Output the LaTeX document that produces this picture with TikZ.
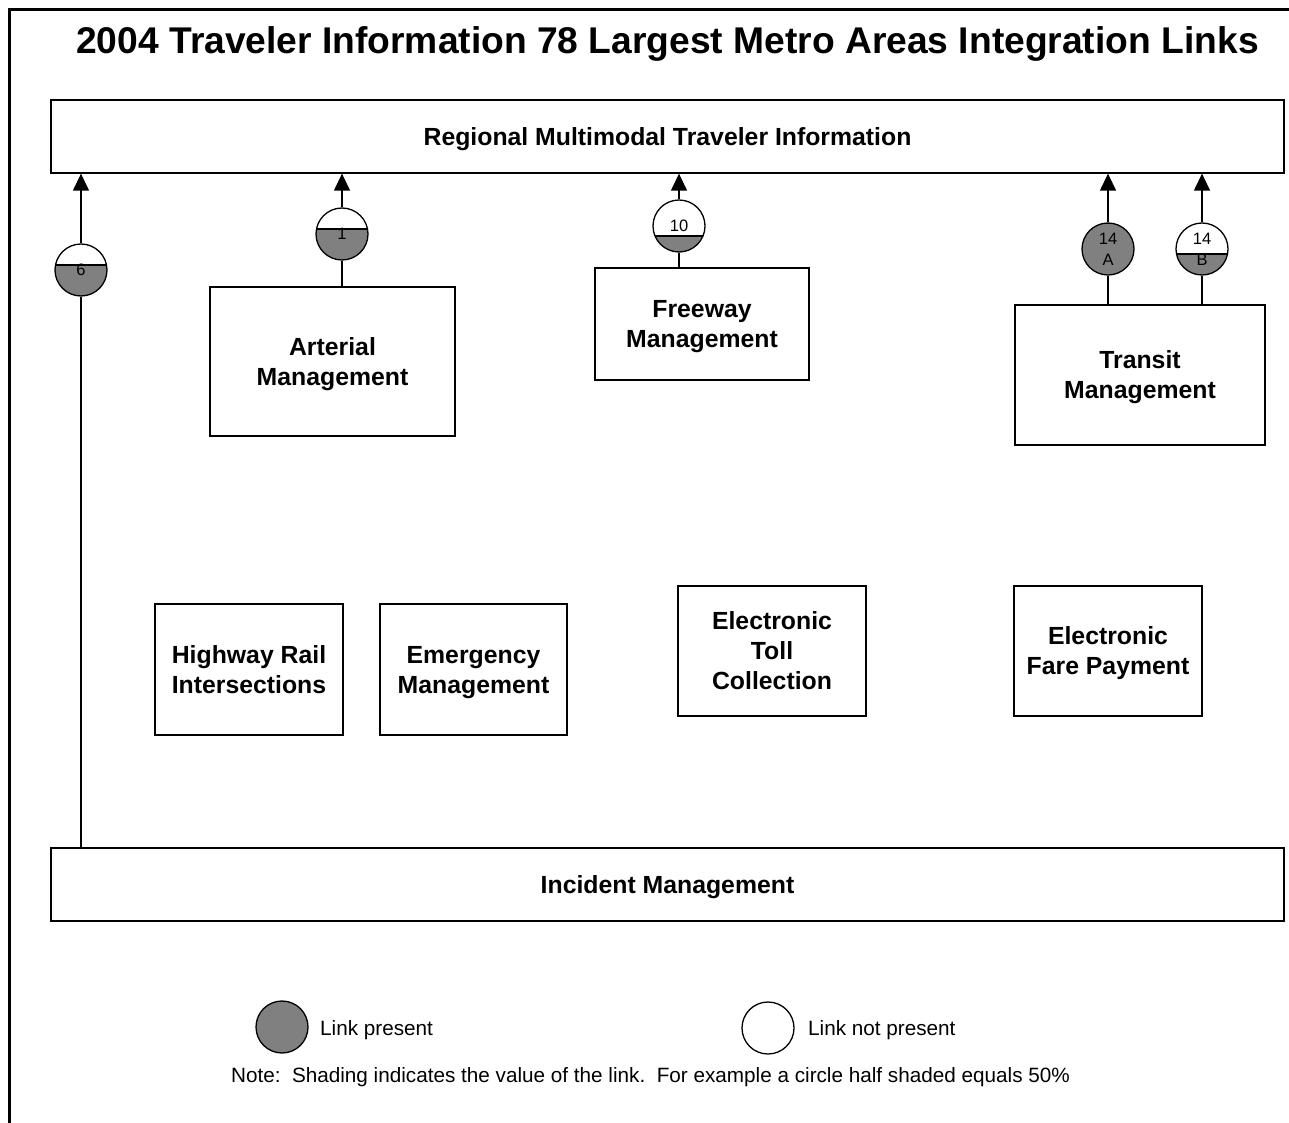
\documentclass[tikz,border=0pt]{standalone}
\usepackage{fontspec}
\setmainfont{Liberation Sans}
\usetikzlibrary{arrows.meta,calc}
\definecolor{shadegray}{RGB}{128,128,128}
\begin{document}
\begin{tikzpicture}[x=1pt,y=1pt,
  every node/.append style={text depth=0pt},
  box/.style={draw, line width=1.3pt, rectangle, align=center, font=\bfseries\fontsize{24.8}{30}\selectfont, inner sep=0pt},
  linkc/.style={circle, draw, line width=1.3pt, minimum size=52pt, inner sep=0pt, align=center,
    font=\fontsize{16.5}{21}\selectfont,
    path picture={\fill[shadegray] (path picture bounding box.south west) rectangle ([yshift=#1]path picture bounding box.south east);
      \draw[line width=1.3pt] ([yshift=#1]path picture bounding box.south west) -- ([yshift=#1]path picture bounding box.south east);}},
  conn/.style={line width=1.3pt},
  arr/.style={line width=1.3pt, -{Triangle[length=17pt,width=16pt]}},
  legtext/.style={anchor=west, inner sep=0pt, font=\fontsize{20.7}{24}\selectfont}
]
\useasboundingbox (0,0) rectangle (1289,-1123);
% outer frame
\draw[line width=3pt] (9.5,-1123) -- (9.5,-10) -- (1289,-10);
% title
\node[font=\bfseries\fontsize{37.2}{44}\selectfont, inner sep=0pt] (title) at (667.5,-40) {2004 Traveler Information 78 Largest Metro Areas Integration Links};
% boxes
\node[box, minimum width=1233pt, minimum height=73pt] (top) at (667.5,-136.5) {Regional Multimodal Traveler Information};
\node[box, minimum width=245pt, minimum height=149pt] (art) at (332.5,-361.5) {Arterial\\Management};
\node[box, minimum width=214pt, minimum height=112pt] (fwy) at (702,-324) {Freeway\\Management};
\node[box, minimum width=250pt, minimum height=140pt] (tra) at (1140,-375) {Transit\\Management};
\node[box, minimum width=188pt, minimum height=131pt] (hri) at (249,-669.5) {Highway Rail\\Intersections};
\node[box, minimum width=187pt, minimum height=131pt] (emg) at (473.5,-669.5) {Emergency\\Management};
\node[box, minimum width=188pt, minimum height=130pt] (etc) at (772,-651) {Electronic\\Toll\\Collection};
\node[box, minimum width=188pt, minimum height=130pt] (efp) at (1108,-651) {Electronic\\Fare Payment};
\node[box, minimum width=1233pt, minimum height=73pt] (inc) at (667.5,-884.5) {Incident Management};
% link circles
\node[linkc=31] (c6) at (81,-270) {6};
\node[linkc=31] (c1) at (342,-234) {1};
\node[linkc=16] (c10) at (679,-226) {10};
\node[linkc=52] (c14a) at (1108,-249) {14\\A};
\node[linkc=21] (c14b) at (1202,-249) {14\\B};
% connectors
\draw[arr] (c6.north) -- (c6.north |- top.south);
\draw[conn] (c6.south) -- (c6.south |- inc.north);
\draw[arr] (c1.north) -- (c1.north |- top.south);
\draw[conn] (c1.south) -- (c1.south |- art.north);
\draw[arr] (c10.north) -- (c10.north |- top.south);
\draw[conn] (c10.south) -- (c10.south |- fwy.north);
\draw[arr] (c14a.north) -- (c14a.north |- top.south);
\draw[conn] (c14a.south) -- (c14a.south |- tra.north);
\draw[arr] (c14b.north) -- (c14b.north |- top.south);
\draw[conn] (c14b.south) -- (c14b.south |- tra.north);
% legend
\node[circle, draw, line width=1.3pt, fill=shadegray, minimum size=52pt, inner sep=0pt] (lp) at (282,-1027) {};
\node[legtext] (lpt) at (320,-1028) {Link present};
\node[circle, draw, line width=1.3pt, fill=white, minimum size=52pt, inner sep=0pt] (lnp) at (768,-1028) {};
\node[legtext] (lnpt) at (808,-1028) {Link not present};
\node[inner sep=0pt, font=\fontsize{20.7}{24}\selectfont] (note) at (650.5,-1075) {Note:\ \ Shading indicates the value of the link.\ \ For example a circle half shaded equals 50\%};
\end{tikzpicture}
\end{document}
